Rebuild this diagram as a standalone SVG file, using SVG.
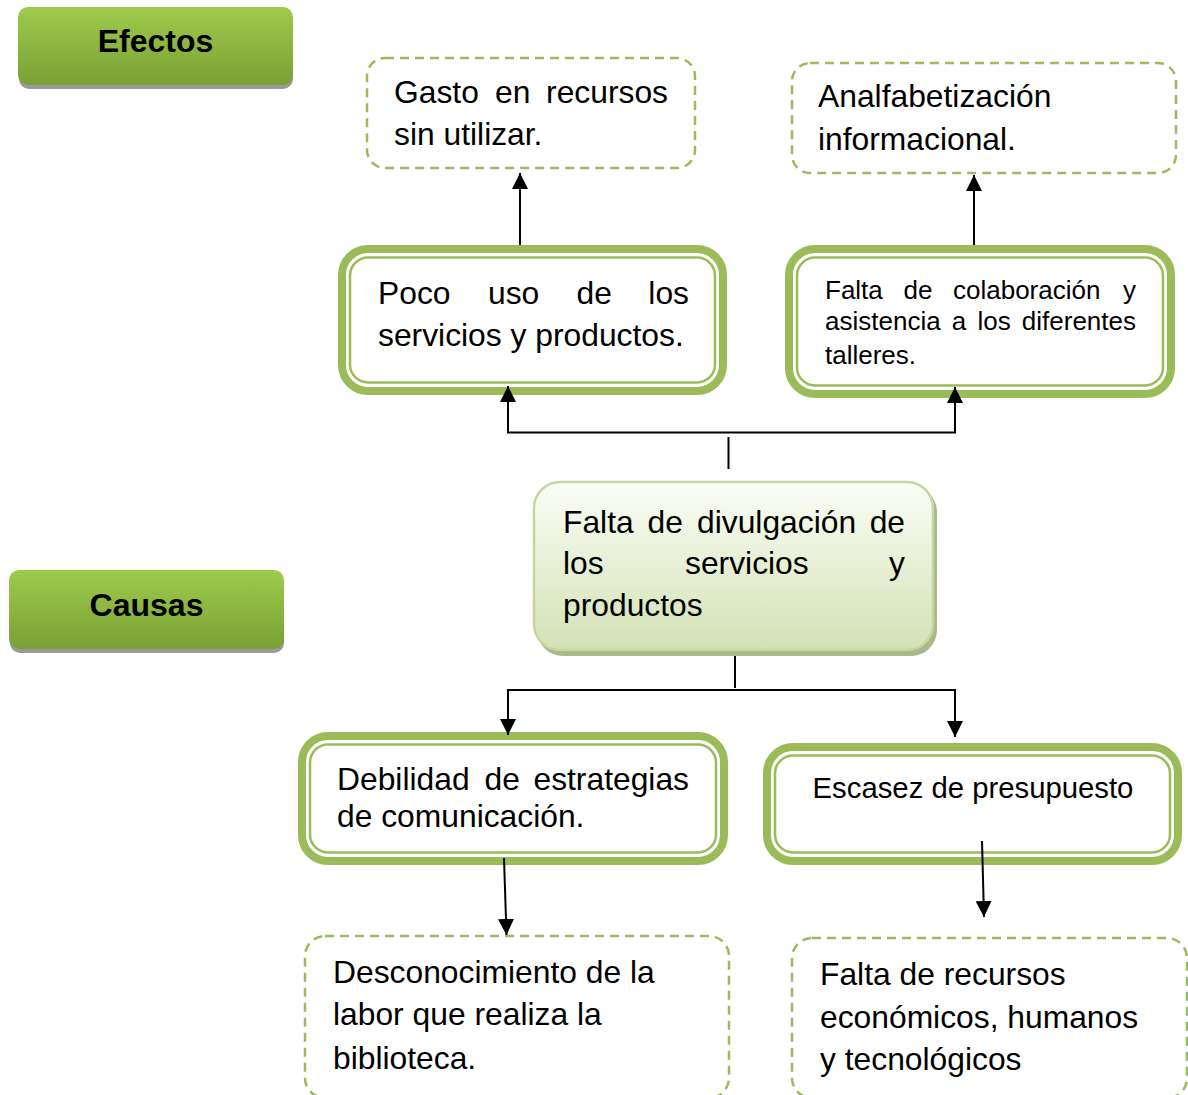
<svg xmlns="http://www.w3.org/2000/svg" width="1188" height="1095" viewBox="0 0 1188 1095">
<style>
  text { font-family: "Liberation Sans", Arial, sans-serif; fill: #000; }
  .t { font-size: 31.8px; }
  .s { font-size: 26px; }
  .h { font-size: 32px; font-weight: bold; }
  .e { text-anchor: end; }
  .dash { fill: #fff; stroke: #9BBB59; stroke-width: 2.5; stroke-dasharray: 9 6; }
  .thick { fill: #fff; stroke: #9BBB59; stroke-width: 8; }
  .thin { fill: none; stroke: #9BBB59; stroke-width: 2.5; }
  .conn { fill: none; stroke: #000; stroke-width: 2; }
</style>
<defs>
  <linearGradient id="gLabel" x1="0" y1="0" x2="0" y2="1">
    <stop offset="0" stop-color="#9FCB4C"/>
    <stop offset="1" stop-color="#78A034"/>
  </linearGradient>
  <linearGradient id="gCenter" x1="0" y1="0" x2="0" y2="1">
    <stop offset="0" stop-color="#FBFDF6"/>
    <stop offset="1" stop-color="#D3E2B5"/>
  </linearGradient>
  <marker id="arr" viewBox="0 0 16 16" refX="16" refY="8" markerWidth="16" markerHeight="16" markerUnits="userSpaceOnUse" orient="auto">
    <path d="M0,0 L16,8 L0,16 Z" fill="#000"/>
  </marker>
</defs>

<g id="efectos">
  <rect x="19" y="11" width="274" height="78" rx="10" fill="#9A9A9A"/>
  <rect x="18" y="7" width="275" height="78" rx="10" fill="url(#gLabel)"/>
  <text class="h" x="155.5" y="52" text-anchor="middle">Efectos</text>
</g>

<g id="causas">
  <rect x="10" y="574" width="274" height="79" rx="10" fill="#9A9A9A"/>
  <rect x="9" y="570" width="275" height="79" rx="10" fill="url(#gLabel)"/>
  <text class="h" x="146.5" y="616" text-anchor="middle">Causas</text>
</g>

<g id="gasto">
  <rect class="dash" x="367" y="58" width="328" height="110" rx="18"/>
  <text class="t" y="103"><tspan x="394">Gasto</tspan><tspan x="495">en</tspan><tspan x="668" class="e">recursos</tspan></text>
  <text class="t" x="394" y="145">sin utilizar.</text>
</g>

<g id="analfabetizacion">
  <rect class="dash" x="792" y="63" width="384" height="110" rx="18"/>
  <text class="t" x="818" y="107">Analfabetización</text>
  <text class="t" x="818" y="150">informacional.</text>
</g>

<g id="poco-uso">
  <rect class="thick" x="342" y="249" width="381" height="142" rx="26"/>
  <rect class="thin" x="350" y="257.5" width="365" height="125" rx="18"/>
  <text class="t" y="304"><tspan x="378">Poco</tspan><tspan x="488">uso</tspan><tspan x="576.5">de</tspan><tspan x="689" class="e">los</tspan></text>
  <text class="t" x="378" y="346">servicios y productos.</text>
</g>

<g id="falta-colaboracion">
  <rect class="thick" x="789" y="249" width="382" height="145" rx="26"/>
  <rect class="thin" x="797" y="257.5" width="366" height="128" rx="18"/>
  <text class="s" y="298.5"><tspan x="825">Falta</tspan><tspan x="903.5">de</tspan><tspan x="953">colaboración</tspan><tspan x="1136" class="e">y</tspan></text>
  <text class="s" y="330"><tspan x="825">asistencia</tspan><tspan x="951.8">a</tspan><tspan x="977.5">los</tspan><tspan x="1136" class="e">diferentes</tspan></text>
  <text class="s" x="825" y="363.5">talleres.</text>
</g>

<g id="falta-divulgacion">
  <rect x="537" y="486" width="400" height="170" rx="26" fill="#A8B98A"/>
  <rect x="534" y="482" width="399" height="168" rx="26" fill="url(#gCenter)" stroke="#C4D79E" stroke-width="2.5"/>
  <text class="t" y="533"><tspan x="563">Falta</tspan><tspan x="647.5">de</tspan><tspan x="697">divulgación</tspan><tspan x="905" class="e">de</tspan></text>
  <text class="t" y="574"><tspan x="563">los</tspan><tspan x="685">servicios</tspan><tspan x="905" class="e">y</tspan></text>
  <text class="t" x="563" y="616">productos</text>
</g>

<g id="debilidad">
  <rect class="thick" x="302" y="736" width="422" height="125" rx="26"/>
  <rect class="thin" x="310" y="744.5" width="406" height="108" rx="18"/>
  <text class="t" y="790"><tspan x="337">Debilidad</tspan><tspan x="484.5">de</tspan><tspan x="689" class="e">estrategias</tspan></text>
  <text class="t" x="337" y="827">de comunicación.</text>
</g>

<g id="escasez">
  <rect class="thick" x="767" y="747" width="411" height="114" rx="26"/>
  <rect class="thin" x="775" y="755.5" width="395" height="97" rx="18"/>
  <text x="973" y="798" font-size="29.3" text-anchor="middle">Escasez de presupuesto</text>
</g>

<g id="desconocimiento">
  <rect class="dash" x="305" y="936" width="424" height="162" rx="20"/>
  <text class="t" x="333" y="983">Desconocimiento de la</text>
  <text class="t" x="333" y="1025">labor que realiza la</text>
  <text class="t" x="333" y="1069">biblioteca.</text>
</g>

<g id="falta-recursos">
  <rect class="dash" x="792" y="938" width="395" height="160" rx="20"/>
  <text class="t" x="820" y="985">Falta de recursos</text>
  <text class="t" x="820" y="1028">económicos, humanos</text>
  <text class="t" x="820" y="1070">y tecnológicos</text>
</g>

<g id="connectors">
  <line class="conn" x1="520" y1="245" x2="520" y2="173" marker-end="url(#arr)"/>
  <line class="conn" x1="974" y1="245" x2="974" y2="175" marker-end="url(#arr)"/>
  <line class="conn" x1="728.5" y1="437" x2="728.5" y2="469"/>
  <polyline class="conn" points="508,400 508,432.5 955,432.5 955,400"/>
  <line class="conn" x1="508" y1="432.5" x2="508" y2="386" marker-end="url(#arr)"/>
  <line class="conn" x1="955" y1="432.5" x2="955" y2="387" marker-end="url(#arr)"/>
  <line class="conn" x1="735" y1="656" x2="735" y2="688"/>
  <polyline class="conn" points="508,720 508,690 955,690 955,720"/>
  <line class="conn" x1="508" y1="690" x2="508" y2="735" marker-end="url(#arr)"/>
  <line class="conn" x1="955" y1="690" x2="955" y2="737" marker-end="url(#arr)"/>
  <line class="conn" x1="504" y1="858" x2="506.5" y2="935" marker-end="url(#arr)"/>
  <line class="conn" x1="982" y1="841" x2="984" y2="917" marker-end="url(#arr)"/>
</g>
</svg>
